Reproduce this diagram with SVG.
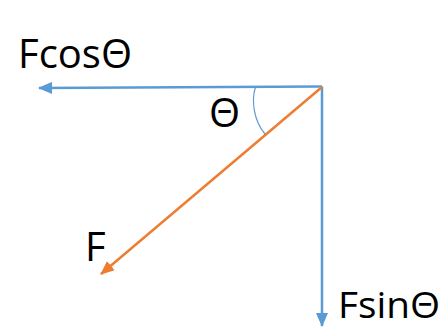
<svg xmlns="http://www.w3.org/2000/svg" width="446" height="329" viewBox="0 0 446 329">
<style>
.lbl{font-family:"Open Sans","Liberation Sans",Arial,sans-serif;font-size:40px;fill:#000}
.blue{stroke:#5B9BD5;stroke-width:2.5;fill:none}
.orange{stroke:#ED7D31;stroke-width:2.5;fill:none}
</style>
<defs>
<marker id="ab" markerUnits="userSpaceOnUse" markerWidth="14" markerHeight="12" refX="13" refY="6" orient="auto"><path d="M0,0 L14,6 L0,12 Z" fill="#5B9BD5"/></marker>
<marker id="ao" markerUnits="userSpaceOnUse" markerWidth="14" markerHeight="12" refX="13" refY="6" orient="auto"><path d="M0,0 L14,6 L0,12 Z" fill="#ED7D31"/></marker>
</defs>
<rect width="446" height="329" fill="#fff"/>
<g id="connectors">
<line class="blue" x1="322" y1="86.5" x2="39" y2="88" marker-end="url(#ab)"/>
<line class="blue" x1="322" y1="86.5" x2="322" y2="326" marker-end="url(#ab)"/>
<line class="orange" x1="322" y1="87" x2="101" y2="274" marker-end="url(#ao)"/>
<path d="M255.5,87 C251,101 254,121 265,134" stroke="#5B9BD5" stroke-width="1.2" fill="none"/>
</g>
<g id="fcos"><text class="lbl" x="18" y="68">FcosΘ</text></g>
<g id="theta"><text class="lbl" x="209" y="127">Θ</text></g>
<g id="f"><text class="lbl" x="85" y="261">F</text></g>
<g id="fsin"><text class="lbl" x="338" y="318" style="font-size:37px" textLength="102" lengthAdjust="spacingAndGlyphs">FsinΘ</text></g>
</svg>
